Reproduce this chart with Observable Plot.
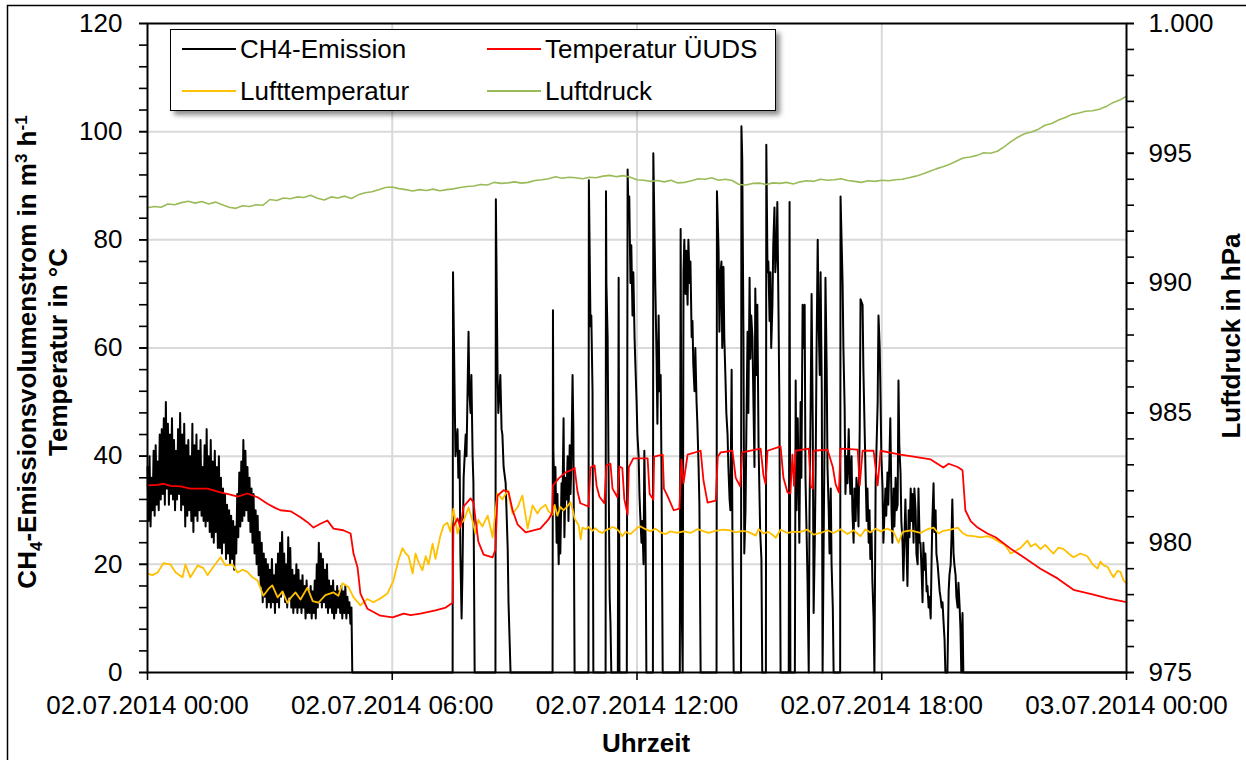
<!DOCTYPE html>
<html>
<head>
<meta charset="utf-8">
<script src="https://cdn.jsdelivr.net/npm/d3@7"></script>
<script src="https://cdn.jsdelivr.net/npm/@observablehq/plot@0.6"></script>
<style>
  body { margin: 0; background: #fff; }
  #chart { position: relative; width: 1246px; height: 760px; overflow: hidden; background: #fff;
           font-family: "Liberation Sans", Arial, sans-serif; }
  #legend { position: absolute; left: 170px; top: 29px; width: 604px; height: 80px; background: #fff;
            border: 1.5px solid #000; box-shadow: 4px 4px 5px rgba(0,0,0,0.45); }
  #legend .sw { position: absolute; height: 2px; width: 54px; }
  #legend .lb { position: absolute; font-size: 26px; line-height: 30px; color: #000; white-space: nowrap; }
</style>
</head>
<body>
<div id="chart"></div>
<script>
// ---- Measurement series, 02.07.2014 ----

// CH4 emission, night section: one reading every 1.5 minutes from 00:00 (m³/h)
const ch4NightStepMin = 1.5;
const ch4Night = [38,28,40,27,36,30,41,29,42,31, 39,30,44,32,45,33,47,31,50,34,
  46,31,44,33,47,32,43,30,41,32, 45,33,48,30,44,31,46,27,42,29,
  43,30,40,28,46,26,42,29,44,28, 41,30,43,29,38,28,42,27,45,28,
  40,26,43,25,39,24,41,26,38,23, 40,23,36,22,34,24,33,21,31,22,
  30,20,29,21,28,19,27,22,33,25, 37,27,39,28,43,29,41,30,38,28,
  36,26,34,24,33,22,30,20,29,18, 26,16,24,13,22,14,21,12,20,13,
  19,12,21,13,18,11,20,13,22,12, 24,14,26,15,22,13,20,12,25,14,
  23,12,19,11,18,12,20,11,19,12, 17,11,18,12,16,10,17,11,15,11,
  16,10,15,11,17,10,20,12,24,13, 22,12,21,13,19,12,20,11,17,12,
  16,11,17,10,15,11,16,12,15,11, 16,10,15,11,16,10,14,11,13,9, 12];

// CH4 emission, day section: [hour, m³/h]
const ch4Day = [[5.02,0],[7.48,0],[7.49,74],[7.52,57],[7.55,40],[7.60,45],[7.62,36],[7.65,41],[7.67,22],[7.70,10],[7.72,18],[7.75,36],[7.80,44],[7.82,40],[7.84,49],[7.87,63],[7.89,52],[7.92,48],[7.94,55],[7.97,40],[7.99,35],[8.02,0],
  [8.53,0],[8.54,87.5],[8.58,56],[8.60,48],[8.63,52],[8.65,55],[8.68,45],[8.70,44],[8.73,38],[8.78,35],[8.83,23],[8.85,13],[8.90,0],
  [9.93,0],[9.94,67],[9.95,41],[9.98,31],[10.00,38],[10.03,24],[10.05,33],[10.08,20],[10.10,30],[10.12,22],[10.15,35],[10.17,30],[10.20,47],[10.22,25],[10.25,36],[10.27,32],[10.30,40],[10.32,28],[10.35,42],[10.37,33],[10.39,38],[10.42,55],[10.44,45],[10.47,0],
  [10.81,0],[10.82,91],[10.86,64],[10.88,66],[10.91,52],[10.93,0],
  [11.23,0],[11.24,89],[11.25,72],[11.28,62],[11.30,40],[11.33,14],[11.35,9],[11.37,0],
  [11.53,0],[11.55,73],[11.57,0],
  [11.75,0],[11.77,93],[11.79,85],[11.81,88],[11.84,72],[11.86,79],[11.89,66],[11.91,74],[11.94,62],[11.96,57],[11.99,50],[12.01,44],[12.04,40],[12.06,33],[12.08,29],[12.11,24],[12.13,28],[12.16,20],[12.18,41],[12.21,25],[12.23,0],
  [12.39,0],[12.40,96],[12.45,71],[12.48,58],[12.50,46],[12.53,66],[12.55,52],[12.58,55],[12.60,38],[12.63,0],
  [13.05,0],[13.07,82],[13.10,10],[13.12,0],[13.14,74],[13.16,80],[13.19,70],[13.21,78],[13.24,68],[13.26,80],[13.29,72],[13.31,76],[13.34,62],[13.36,65],[13.38,57],[13.41,52],[13.43,60],[13.46,50],[13.48,46],[13.51,38],[13.53,31],[13.56,0],
  [13.95,0],[13.96,89],[14.00,78],[14.02,63],[14.05,74],[14.07,76],[14.09,60],[14.12,75],[14.14,62],[14.17,54],[14.19,48],[14.22,44],[14.24,38],[14.27,32],[14.29,30],[14.32,56],[14.34,24],[14.37,0],
  [14.55,0],[14.56,101],[14.58,95],[14.61,62],[14.63,22],[14.66,30],[14.68,44],[14.71,63],[14.73,48],[14.76,73],[14.78,58],[14.80,66],[14.83,62],[14.85,52],[14.88,38],[14.90,71],[14.93,55],[14.95,68],[14.98,42],[15.00,34],[15.02,26],[15.05,21],[15.07,0],
  [15.16,0],[15.17,97.6],[15.20,74],[15.22,76],[15.25,65],[15.27,74],[15.29,60],[15.32,68],[15.34,79],[15.37,86],[15.39,74],[15.42,78],[15.44,87],[15.47,66],[15.49,50],[15.52,0],
  [15.72,0],[15.74,87],[15.76,0],
  [15.87,0],[15.89,54],[15.91,30],[15.94,47],[15.96,36],[15.98,24],[16.01,50],[16.03,36],[16.06,68],[16.08,60],[16.11,68],[16.13,36],[16.16,25],[16.18,17],[16.21,0],[16.23,30],[16.26,52],[16.28,70],[16.31,45],[16.33,11],[16.36,25],[16.38,38],[16.40,58],[16.43,80],[16.45,66],[16.48,55],[16.50,74],[16.53,52],[16.55,0],[16.58,28],[16.60,45],[16.62,73],[16.65,56],[16.67,38],[16.70,30],[16.72,22],[16.75,34],[16.77,20],[16.80,12],[16.82,0],
  [16.98,0],[16.99,88],[17.04,72],[17.06,60],[17.09,49],[17.11,33],[17.14,40],[17.16,35],[17.19,45],[17.21,38],[17.23,33],[17.26,40],[17.28,30],[17.31,24],[17.33,34],[17.36,28],[17.38,36],[17.41,33],[17.43,27],[17.46,45],[17.48,69],[17.53,68],[17.55,56],[17.58,45],[17.60,38],[17.63,28],[17.65,34],[17.68,24],[17.70,30],[17.72,21],[17.75,26],[17.77,17],[17.80,10],[17.82,0],
  [17.85,35],[17.87,41],[17.90,50],[17.92,66],[17.95,60],[17.97,51],[17.99,40],[18.02,34],[18.04,24],[18.07,30],[18.09,34],[18.11,29],[18.14,37],[18.16,31],[18.19,40],[18.21,47],[18.24,30],[18.26,24],[18.29,34],[18.31,27],[18.34,36],[18.36,30],[18.39,31],[18.41,54],[18.43,42],[18.46,37],[18.48,28],[18.51,24],[18.53,17],[18.56,26],[18.58,32],[18.61,22],[18.63,16],[18.66,30],[18.68,25],[18.71,34],[18.73,28],[18.75,33],[18.78,24],[18.80,34],[18.83,30],[18.85,22],[18.88,20],[18.90,34],[18.93,24],[18.95,24],[18.98,18],[19.00,13],
  [19.02,24],[19.05,19],[19.07,22],[19.10,15],[19.12,16],[19.15,12],[19.17,14],[19.20,10],[19.22,20],[19.24,28],[19.27,35],[19.29,26],[19.32,30],[19.34,22],[19.37,20],[19.39,18],[19.42,15],[19.44,14],[19.47,12],[19.49,13],[19.51,10],[19.54,6],[19.56,0],[19.61,0],
  [19.64,15],[19.66,18],[19.69,20],[19.71,25],[19.73,32],[19.76,22],[19.78,20],[19.81,18],[19.83,14],[19.86,12],[19.88,16.6],[19.91,12],[19.93,8],[19.95,0],[19.98,11],[20.00,0],[24.00,0]];

// Temperature of the ÜUDS: [hour, °C]
const tempUUDS = [[0.00,34.6],[0.25,34.7],[0.39,34.9],[0.56,34.5],[0.81,34.4],[1.05,34.0],[1.47,34.0],[1.79,33.3],[2.03,32.9],[2.21,32.5],[2.45,33.1],[2.70,32.4],[2.94,31.2],[3.14,30.4],[3.26,30.0],[3.51,29.8],[3.75,28.7],[3.92,27.8],[4.07,26.8],[4.24,27.5],[4.41,28.1],[4.56,26.6],[4.80,26.3],[4.98,25.7],
  [5.05,22.0],[5.15,19.4],[5.22,14.6],[5.39,11.8],[5.71,10.5],[6.01,10.2],[6.28,10.9],[6.45,10.6],[6.69,10.9],[7.06,11.5],[7.31,12.0],[7.48,12.9],
  [7.50,27.0],[7.60,28.5],[7.67,26.8],[7.75,30.7],[7.92,32.2],[7.99,31.5],[8.11,24.2],[8.24,21.8],[8.46,21.3],[8.53,22.7],[8.58,32.7],[8.73,33.7],[8.85,33.4],[8.95,30.0],[9.07,27.4],[9.27,25.9],[9.63,26.6],[9.83,28.3],[9.92,29.5],
  [9.94,34.6],[10.08,35.9],[10.25,37.0],[10.42,37.5],[10.47,37.9],[10.54,33.5],[10.61,31.3],[10.81,30.7],[10.86,37.9],[10.96,38.3],[11.01,34.5],[11.08,32.5],[11.20,31.3],[11.25,38.3],[11.35,38.6],[11.40,34.0],[11.52,32.4],[11.57,38.1],[11.64,37.8],[11.69,32.0],[11.77,29.2],[11.80,38.0],[11.91,39.6],
  [12.26,39.6],[12.31,33.0],[12.40,32.0],[12.42,39.9],[12.63,40.3],[12.66,34.0],[12.75,32.6],[12.90,30.0],[13.04,30.3],[13.09,39.4],[13.14,35.0],[13.24,40.3],[13.56,41.0],[13.63,35.5],[13.73,31.4],[13.93,31.8],[13.98,39.9],[14.05,40.7],[14.34,41.0],[14.42,36.0],[14.53,34.4],[14.58,40.7],
  [15.03,41.4],[15.10,36.5],[15.15,34.9],[15.20,41.0],[15.52,41.8],[15.59,36.0],[15.69,33.3],[15.76,33.1],[15.81,40.3],[15.85,34.5],[15.89,41.0],[16.21,41.4],[16.26,34.5],[16.31,34.0],[16.33,41.0],[16.67,41.2],[16.80,38.0],[16.87,34.8],[16.95,33.3],[16.99,41.4],[17.41,41.2],[17.46,34.6],[17.53,41.0],[17.80,41.0],[17.90,34.6],[17.97,41.0],
  [18.46,40.3],[18.78,39.9],[19.20,39.4],[19.51,37.9],[19.64,38.6],[19.86,38.0],[19.98,37.4],[20.05,30.0],[20.18,28.0],[20.35,26.8],[20.59,25.7],[20.79,25.0],[21.16,22.9],[21.48,21.3],[21.89,19.2],[22.31,17.4],[22.70,15.3],[23.19,14.4],[23.54,13.7],[24.00,13.0]];

// Air temperature: [hour, °C]
const tempAir = [[0.00,18.3],[0.12,18.0],[0.25,18.5],[0.39,20.2],[0.56,20.0],[0.69,18.5],[0.86,17.6],[0.93,20.0],[1.05,17.6],[1.23,19.8],[1.37,19.3],[1.47,18.0],[1.62,19.6],[1.79,21.3],[1.91,19.8],[2.08,20.0],[2.21,18.5],[2.33,19.0],[2.45,18.6],[2.57,17.6],[2.70,17.0],[2.84,14.2],[2.97,15.5],[3.06,16.1],[3.19,13.9],[3.31,15.0],[3.43,12.9],[3.53,14.0],[3.63,14.8],[3.75,13.5],[3.92,15.7],[4.05,13.2],[4.19,12.9],[4.36,14.3],[4.56,14.8],[4.68,14.2],[4.78,16.5],[4.93,15.8],
  [5.05,13.9],[5.22,12.4],[5.39,13.6],[5.54,13.0],[5.71,13.7],[5.88,14.6],[6.03,17.0],[6.15,20.7],[6.25,23.0],[6.33,22.0],[6.40,21.5],[6.50,18.3],[6.57,22.0],[6.64,20.5],[6.74,18.9],[6.82,21.5],[6.89,20.0],[6.99,23.8],[7.06,21.0],[7.18,25.3],[7.26,27.2],[7.35,27.7],[7.43,26.0],[7.50,30.3],[7.60,25.7],[7.67,27.5],[7.75,28.1],[7.87,30.5],[7.97,28.0],
  [8.04,25.7],[8.11,28.2],[8.21,27.0],[8.34,29.0],[8.46,25.0],[8.58,33.1],[8.70,32.0],[8.83,33.7],[8.95,29.4],[9.07,30.5],[9.19,32.7],[9.32,26.6],[9.44,30.9],[9.56,29.4],[9.63,30.3],[9.76,31.0],[9.83,29.8],[9.93,29.2],[9.98,31.0],[10.05,29.0],[10.12,30.6],[10.20,30.0],[10.30,30.8],[10.37,31.5],[10.42,30.2],[10.47,28.5],[10.57,27.2],[10.62,24.6],[10.66,26.8],[10.74,26.5],[10.81,26.9],[10.91,26.2],[10.98,26.7],
  [11.06,26.1],[11.15,25.8],[11.23,26.3],[11.30,26.5],[11.40,26.9],[11.47,26.7],[11.55,26.2],[11.64,25.2],[11.72,26.0],[11.84,25.6],[12.01,26.8],[12.09,27.0],[12.21,26.5],[12.33,26.1],[12.45,26.6],[12.58,25.9],[12.70,25.6],[12.82,26.1],[12.99,25.8],[13.14,26.1],[13.31,25.8],[13.48,26.5],[13.61,26.2],[13.75,25.8],[13.93,26.2],
  [14.10,26.4],[14.27,26.3],[14.42,25.9],[14.59,26.2],[14.73,26.0],[14.91,25.3],[14.98,26.5],[15.10,25.7],[15.22,26.0],[15.35,25.3],[15.40,24.9],[15.52,26.4],[15.69,25.8],[15.84,26.0],[16.01,26.0],[16.18,26.4],[16.33,25.5],[16.50,25.8],[16.67,26.3],[16.82,25.8],[16.99,26.5],[17.16,25.6],[17.31,26.3],[17.48,25.2],[17.60,26.5],[17.72,25.9],[17.85,26.6],[17.97,26.1],
  [18.14,26.6],[18.29,26.0],[18.41,24.0],[18.51,26.0],[18.71,26.3],[18.95,25.8],[19.12,26.5],[19.27,26.8],[19.39,25.7],[19.51,26.2],[19.69,26.4],[19.86,26.8],[19.98,25.8],[20.10,25.3],[20.25,25.2],[20.42,25.0],[20.59,25.2],[20.74,24.8],[20.91,24.0],[20.99,23.8],[21.11,22.6],[21.16,22.0],[21.28,22.5],[21.40,23.0],[21.57,24.4],[21.65,23.3],[21.77,23.8],[21.89,22.8],
  [22.01,23.6],[22.14,22.5],[22.21,22.0],[22.33,23.1],[22.46,22.8],[22.58,22.0],[22.70,21.3],[22.87,22.0],[23.04,21.5],[23.17,20.0],[23.29,19.2],[23.36,20.5],[23.44,19.8],[23.54,19.5],[23.61,18.5],[23.68,17.6],[23.78,18.8],[23.85,18.6],[23.93,17.0],[24.00,16.5]];

// Air pressure: one reading every 10 minutes from 00:00 (hPa)
const pressureStepMin = 10;
const pressure = [992.90,992.95,992.92,993.05,993.02,993.10, 993.15,993.08,993.14,993.05,993.12,993.02,
  992.92,992.88,992.98,992.95,993.02,993.00, 993.22,993.18,993.28,993.25,993.32,993.30,
  993.38,993.27,993.20,993.32,993.28,993.35, 993.26,993.40,993.48,993.52,993.60,993.68,
  993.70,993.64,993.60,993.55,993.60,993.57, 993.62,993.56,993.60,993.63,993.68,993.72,
  993.74,993.80,993.78,993.88,993.84,993.86, 993.90,993.85,993.88,993.95,993.98,994.02,
  994.10,994.04,994.08,994.06,994.02,994.08, 994.06,994.12,994.15,994.10,994.14,994.08,
  993.98,993.96,993.92,993.95,993.90,993.96, 993.86,993.88,993.94,994.02,994.00,994.06,
  993.96,994.00,993.95,993.80,993.78,993.84, 993.85,993.80,993.86,993.84,993.88,993.82,
  993.90,993.94,993.92,994.00,993.96,993.98, 994.02,993.95,993.92,993.88,993.94,993.92,
  993.96,993.94,993.98,994.00,994.06,994.12, 994.20,994.30,994.40,994.48,994.58,994.70,
  994.82,994.86,994.92,995.02,995.00,995.08, 995.25,995.45,995.62,995.75,995.82,995.92,
  996.08,996.15,996.28,996.38,996.50,996.55, 996.62,996.64,996.70,996.80,996.95,997.05,
  997.20];

// Axis ticks
const xTickHours = [0, 6, 12, 18, 24];
const yTicks = [0, 20, 40, 60, 80, 100, 120];
const pressureTicks = [975, 980, 985, 990, 995, 1000];

// Legend
const seriesNames = ["CH4-Emission", "Temperatur ÜUDS", "Lufttemperatur", "Luftdruck"];
const seriesColors = ["#000000", "#ff0000", "#ffc000", "#9bbb59"];

// ---- Helpers ----
const FONT = "'Liberation Sans', Arial, sans-serif";
const t0 = Date.UTC(2014, 6, 2);
const at = h => new Date(t0 + h * 3600e3);
// Pressure is drawn against the left scale: 975–1000 hPa maps onto 0–120
const pToY = p => (p - 975) * 120 / 25;
const yToP = y => Math.round(975 + y * 25 / 120);
const fmtDE = d3.formatLocale({decimal: ",", thousands: ".", grouping: [3], currency: ["", " €"]}).format(",d");
const fmtTime = d3.utcFormat("%d.%m.%Y %H:%M");

const ch4 = [
  ...ch4Night.map((v, i) => ({t: at(i * ch4NightStepMin / 60), v})),
  ...ch4Day.map(([h, v]) => ({t: at(h), v}))
];
const uuds = tempUUDS.map(([h, v]) => ({t: at(h), v}));
const air = tempAir.map(([h, v]) => ({t: at(h), v}));
const press = pressure.map((p, i) => ({t: at(i * pressureStepMin / 60), v: pToY(p)}));

const chart = Plot.plot({
  width: 1246,
  height: 760,
  marginLeft: 147,
  marginRight: 120,
  marginTop: 23,
  marginBottom: 88,
  style: {fontFamily: FONT, fontSize: "26px", color: "#000", background: "#fff", overflow: "visible"},
  x: {type: "utc", domain: [at(0), at(24)], label: null},
  y: {domain: [0, 120], label: null},
  marks: [
    Plot.gridY(yTicks.slice(1, -1), {stroke: "#d9d9d9", strokeOpacity: 1, strokeWidth: 2}),
    Plot.gridX(xTickHours.slice(1, -1).map(at), {stroke: "#d9d9d9", strokeOpacity: 1, strokeWidth: 2}),
    Plot.line(ch4, {x: "t", y: "v", stroke: seriesColors[0], strokeWidth: 2}),
    Plot.line(air, {x: "t", y: "v", stroke: seriesColors[2], strokeWidth: 1.8}),
    Plot.line(uuds, {x: "t", y: "v", stroke: seriesColors[1], strokeWidth: 1.8}),
    Plot.line(press, {x: "t", y: "v", stroke: seriesColors[3], strokeWidth: 1.6}),
    Plot.frame({stroke: "#000", strokeWidth: 2}),
    // left axis: minor ticks every 4, labelled every 20
    Plot.axisY(d3.range(0, 121, 4), {tickSize: 8, tickFormat: () => "", stroke: "#000", strokeWidth: 1.6, label: null}),
    Plot.axisY(yTicks, {tickSize: 8, tickPadding: 17, fontSize: 26, stroke: "#000", strokeWidth: 1.6, label: null}),
    // right axis: air pressure, minor ticks every hPa
    Plot.axisY(d3.range(975, 1001).map(pToY), {anchor: "right", tickSize: 7, tickFormat: () => "", stroke: "#000", strokeWidth: 1.6, label: null}),
    Plot.axisY(pressureTicks.map(pToY), {anchor: "right", tickSize: 7, tickPadding: 15, fontSize: 26,
      tickFormat: y => fmtDE(yToP(y)), stroke: "#000", strokeWidth: 1.6, label: null}),
    Plot.axisX(xTickHours.map(at), {tickSize: 8, tickPadding: 15, fontSize: 26, tickFormat: fmtTime,
      stroke: "#000", strokeWidth: 1.6, label: null})
  ]
});

const svg = d3.select(chart);

// outer chart border
svg.append("path").attr("d", "M7.5,770V5.5H1260").attr("fill", "none").attr("stroke", "#000").attr("stroke-width", 1.5);

// axis titles
const titles = svg.append("g").attr("font-family", FONT).attr("font-weight", "bold").attr("font-size", 26).attr("fill", "#000");
const left1 = titles.append("text").attr("transform", "translate(36,352) rotate(-90)").attr("text-anchor", "middle");
left1.append("tspan").text("CH");
left1.append("tspan").attr("font-size", 17).attr("dy", 6).text("4");
left1.append("tspan").attr("dy", -6).text("-Emissionsvolumenstrom in m");
left1.append("tspan").attr("font-size", 17).attr("dy", -9).text("3");
left1.append("tspan").attr("dy", 9).text(" h");
left1.append("tspan").attr("font-size", 17).attr("dy", -9).text("-1");
titles.append("text").attr("transform", "translate(67,352) rotate(-90)").attr("text-anchor", "middle").text("Temperatur in °C");
titles.append("text").attr("transform", "translate(1240,336) rotate(-90)").attr("text-anchor", "middle").text("Luftdruck in hPa");
titles.append("text").attr("x", 646).attr("y", 752).attr("text-anchor", "middle").text("Uhrzeit");

const root = document.getElementById("chart");
root.appendChild(chart);

// legend box overlaid on the plot area
const legend = document.createElement("div");
legend.id = "legend";
const colX = [11, 316], rowY = [19, 61];
seriesNames.forEach((name, i) => {
  const c = i % 2, r = Math.floor(i / 2);
  const sw = document.createElement("div");
  sw.className = "sw";
  sw.style.left = colX[c] + "px";
  sw.style.top = (rowY[r] - 1) + "px";
  sw.style.background = seriesColors[i];
  const lb = document.createElement("div");
  lb.className = "lb";
  lb.style.left = (colX[c] + 58) + "px";
  lb.style.top = (rowY[r] - 15) + "px";
  lb.textContent = name;
  legend.appendChild(sw);
  legend.appendChild(lb);
});
root.appendChild(legend);
</script>
</body>
</html>
